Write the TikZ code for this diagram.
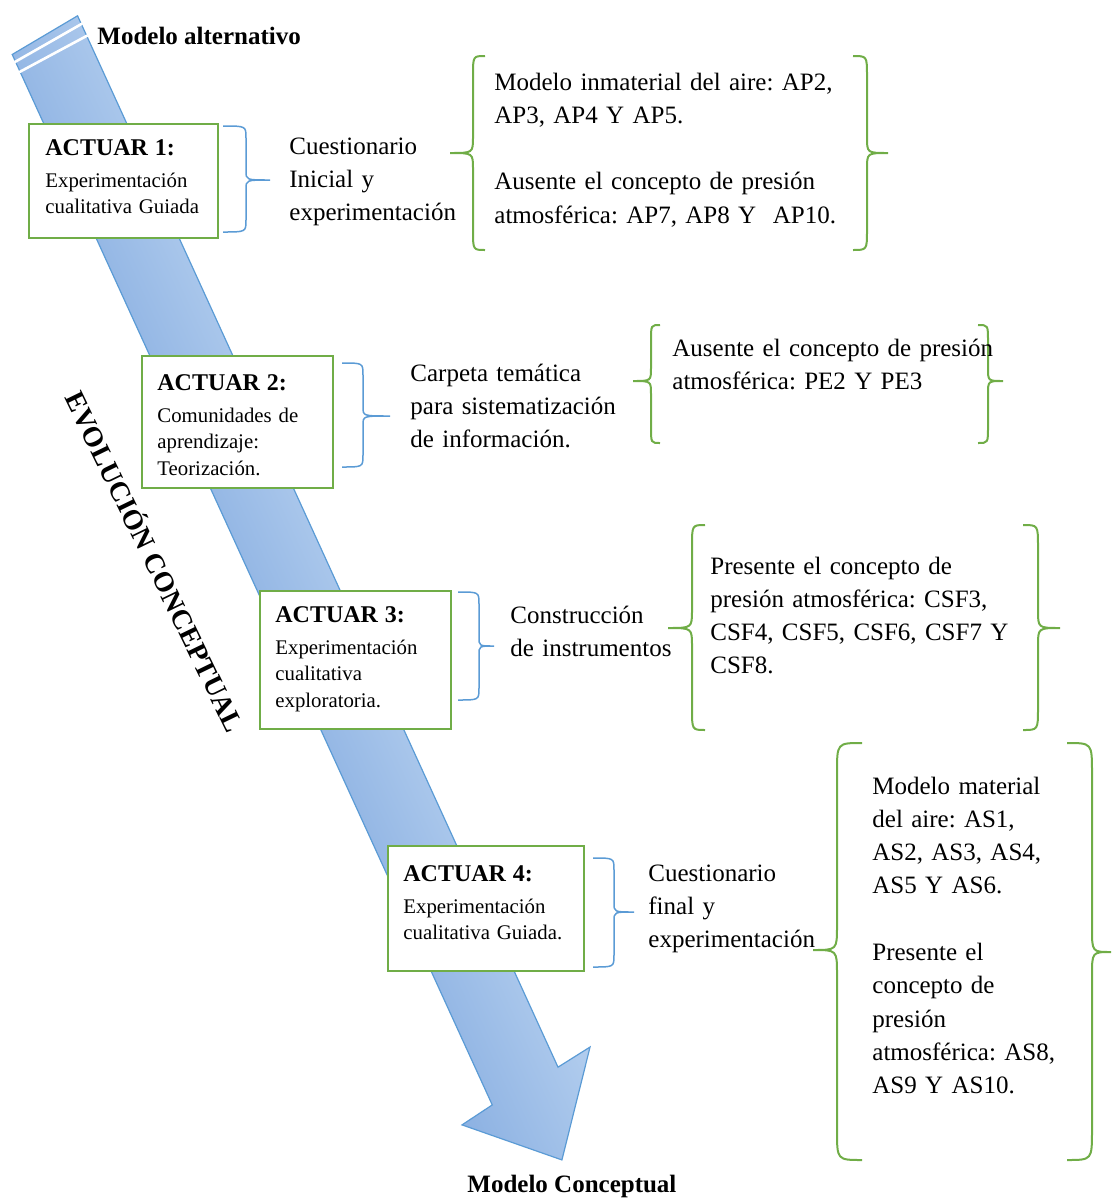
\documentclass[tikz,border=0pt]{standalone}
\usepackage{fontspec}
\setmainfont{Liberation Serif}
\frenchspacing

\definecolor{leafgreen}{RGB}{112,173,71}
\definecolor{skyline}{RGB}{91,155,213}
\definecolor{arrowdark}{RGB}{140,177,226}
\definecolor{arrowlight}{RGB}{178,205,238}

% curly brace: #1 style, #2 end x, #3 spine x, #4 tip x,
% #5 top y, #6 tip y, #7 bottom y, #8 end curve, #9 tip curve
\newcommand{\curlybr}[9]{%
  \draw[#1] (#2,#5) .. controls (#3,#5) .. (#3,#5+#8) -- (#3,#6-#9)
    .. controls (#3,#6) .. (#4,#6)
    .. controls (#3,#6) .. (#3,#6+#9) -- (#3,#7-#8)
    .. controls (#3,#7) .. (#2,#7);}

\begin{document}
\begin{tikzpicture}[x=0.5pt,y=-0.5pt,
  actbox/.style={draw=leafgreen, line width=1pt, fill=white, anchor=north west, inner sep=0pt},
  boxtext/.style={anchor=base west, inner sep=0pt, text width=120pt, align=left,
    font=\fontsize{10.4}{13.25}\selectfont},
  bigtext/.style={anchor=base west, inner sep=0pt, text width=200pt, align=left,
    font=\fontsize{12.5}{16.65}\selectfont},
  title/.style={anchor=base west, inner sep=0pt, font=\bfseries\fontsize{12.5}{15}\selectfont},
  bluebr/.style={draw=skyline, line width=0.75pt},
  greenbr/.style={draw=leafgreen, line width=1pt},
]
\newcommand{\acthead}[1]{{\bfseries\fontsize{12}{16}\selectfont #1}\\[2.75pt]}

\useasboundingbox (0,0) rectangle (1113,1201);

% the large diagonal arrow, drawn in its own frame along the shaft
\begin{scope}[transform canvas={shift={(97,240)}, rotate=24.56}]
  \shadedraw[left color=arrowdark, right color=arrowlight, draw=skyline, line width=0.6pt]
    (0,-204) -- (75.5,-212) -- (75.5,944) -- (113,939) -- (40.5,1030)
    -- (-35.8,956.6) -- (0,951) -- cycle;
  \draw[white, line width=1.3pt] (-1,-196) -- (76.5,-203);
  \draw[white, line width=1.3pt] (-1,-185) -- (76.5,-190);
\end{scope}

% end labels
\node[title] (start) at (97,44) {Modelo alternativo};
\node[title] (finish) at (467,1192) {Modelo Conceptual};

% axis label
\node[rotate=-64.1, anchor=base, inner sep=0pt, font=\bfseries\fontsize{14}{16}\selectfont]
  (evol) at (146,566) {EVOLUCIÓN CONCEPTUAL};

% stage boxes
\node[actbox, minimum width=94.5pt, minimum height=57pt] (box1) at (28,123) {};
\node[actbox, minimum width=95.5pt, minimum height=66pt] (box2) at (141,355) {};
\node[actbox, minimum width=95.5pt, minimum height=69pt] (box3) at (259,590) {};
\node[actbox, minimum width=98pt, minimum height=62.5pt] (box4) at (387,845) {};

\node[boxtext] (act1) at (45,155) {\acthead{ACTUAR 1:}Experimentación\\cualitativa Guiada};
\node[boxtext] (act2) at (157,390) {\acthead{ACTUAR 2:}Comunidades de\\aprendizaje:\\Teorización.};
\node[boxtext] (act3) at (275,622) {\acthead{ACTUAR 3:}Experimentación\\cualitativa\\exploratoria.};
\node[boxtext] (act4) at (403,881) {\acthead{ACTUAR 4:}Experimentación\\cualitativa Guiada.};

% blue braces after each box
\curlybr{bluebr}{223}{246}{270}{126}{180}{232}{12}{9}
\curlybr{bluebr}{342}{363}{390}{363}{416}{467}{12}{9}
\curlybr{bluebr}{458}{479}{494}{592}{646}{700}{12}{9}
\curlybr{bluebr}{593}{614}{634}{858}{912}{967}{12}{9}

% activities
\node[bigtext] (tool1) at (289,154) {Cuestionario\\Inicial y\\experimentación};
\node[bigtext] (tool2) at (410,381) {Carpeta temática\\para sistematización\\de información.};
\node[bigtext] (tool3) at (510,623) {Construcción\\de instrumentos};
\node[bigtext] (tool4) at (648,881) {Cuestionario\\final y\\experimentación};

% green braces around the findings
\curlybr{greenbr}{485}{473}{450}{56}{153}{250}{20}{16}
\curlybr{greenbr}{853}{867}{888}{56}{153}{250}{20}{16}
\curlybr{greenbr}{660}{651}{633}{325}{381}{443}{16}{13}
\curlybr{greenbr}{978}{988}{1003}{325}{381}{443}{16}{13}
\curlybr{greenbr}{705}{692}{668}{525}{628}{730}{22}{18}
\curlybr{greenbr}{1023}{1038}{1060}{525}{628}{730}{22}{18}
\curlybr{greenbr}{862}{837}{813}{743}{950}{1160}{30}{24}
\curlybr{greenbr}{1067}{1092}{1111}{743}{952}{1160}{30}{24}

% findings
\node[bigtext] (find1) at (494,90) {Modelo inmaterial del aire: AP2,\\AP3, AP4 Y AP5.\\[16.65pt]Ausente el concepto de presión\\atmosférica: AP7, AP8 Y~~AP10.};
\node[bigtext] (find2) at (672,356) {Ausente el concepto de presión\\atmosférica: PE2 Y PE3};
\node[bigtext] (find3) at (710,574) {Presente el concepto de\\presión atmosférica: CSF3,\\CSF4, CSF5, CSF6, CSF7 Y\\CSF8.};
\node[bigtext] (find4) at (872,794) {Modelo material\\del aire: AS1,\\AS2, AS3, AS4,\\AS5 Y AS6.\\[16.65pt]Presente el\\concepto de\\presión\\atmosférica: AS8,\\AS9 Y AS10.};
\end{tikzpicture}
\end{document}
